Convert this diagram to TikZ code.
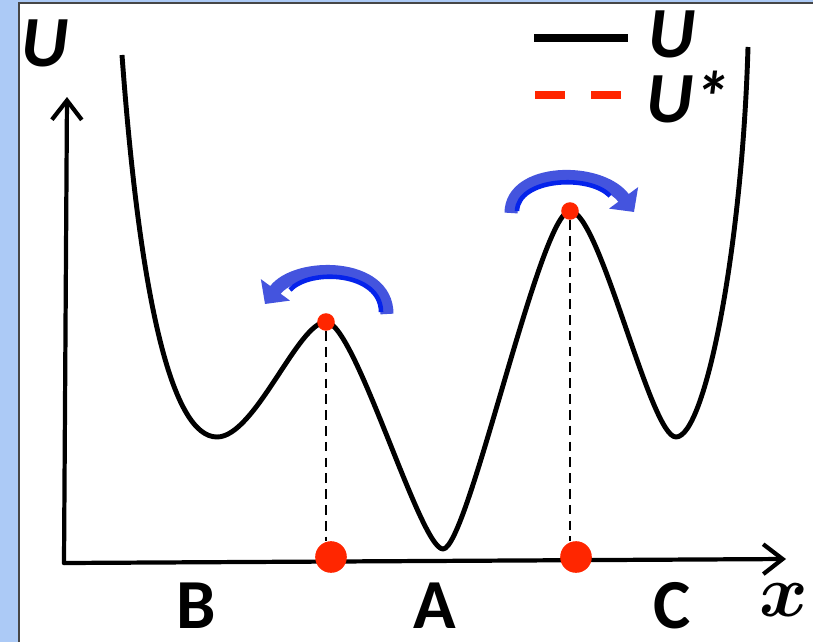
\documentclass[tikz,border=0pt]{standalone}
\usepackage{fontspec}
\setmainfont{Carlito}
\usetikzlibrary{arrows.meta}

\definecolor{slideblue}{RGB}{172,202,246}
\definecolor{frame}{RGB}{70,70,70}
\definecolor{dotred}{RGB}{255,38,0}
\definecolor{hopblue}{RGB}{68,84,222}
\definecolor{hopdark}{RGB}{5,35,235}

\tikzset{
    axis/.style={line width=2.4pt, line cap=round,
        -{Straight Barb[length=11pt,width=17pt,line width=2.4pt]}},
    energy/.style={line width=2.8pt, line join=round},
    saddle/.style={circle, fill=dotred, inner sep=0pt, minimum size=10pt},
    crossing/.style={circle, fill=dotred, inner sep=0pt, minimum size=18pt},
    guide/.style={line width=0.9pt, dash pattern=on 5.5pt off 3.5pt},
    hop/.style={line width=7.4pt, hopblue,
        -{Triangle[length=10pt,width=20pt]}},
    hopcore/.style={line width=2.6pt, hopdark},
    well/.style={inner sep=0pt, font=\bfseries\fontsize{40}{40}\selectfont},
    symb/.style={inner sep=0pt, font=\bfseries\itshape\fontsize{41}{41}\selectfont}
}

\begin{document}
\begin{tikzpicture}[x=0.02cm,y=-0.02cm]
    % slide background and panel
    \useasboundingbox (0,0) rectangle (813,642);
    \fill[slideblue] (0,0) rectangle (813,642);
    \fill[white] (19,3) rectangle (813,642);
    \draw[frame, line width=0.8pt] (19,642) -- (19,3) -- (813,3);

    % axes
    \coordinate (origin) at (64,563);
    \coordinate (ytip) at (67,97);
    \coordinate (xtip) at (786,559);
    \draw[axis] (origin) -- (ytip);
    \draw[axis] (origin) -- (xtip);
    \node[symb] (ylab) at (45,43) {U};
    \node[inner sep=0pt] (xlab) at (784,600) {\scalebox{4.2}{\boldmath$x$}};

    % potential energy curve
    \draw[energy] (122,55)
        .. controls (140,300) and (172,437) .. (217,437)
        .. controls (255,437) and (298,322) .. (326,322)
        .. controls (355,322) and (420,549) .. (443,549)
        .. controls (468,549) and (540,211) .. (570,211)
        .. controls (600,211) and (650,437) .. (676,437)
        .. controls (705,437) and (742,250) .. (748,47);

    % transition states projected on x
    \node[crossing] (xs1) at (331,557) {};
    \node[crossing] (xs2) at (576,557) {};
    \node[saddle] (ts1) at (326,322) {};
    \node[saddle] (ts2) at (570,211) {};
    \draw[guide] (ts1) -- (ts1 |- xs1.north);
    \draw[guide] (ts2) -- (ts2 |- xs2.north);

    % hopping arrows
    \draw[hop] (387,314) .. controls (387,262) and (296,262) .. (265,304);
    \draw[hopcore] (381,312) .. controls (381,272) and (310,268) .. (290,290);
    \draw[hop] (511,213) .. controls (511,168) and (600,166) .. (634,212);
    \draw[hopcore] (517,211) .. controls (518,178) and (590,174) .. (610,196);

    % basin labels
    \node[well] (B) at (196,606) {B};
    \node[well] (A) at (435,606) {A};
    \node[well] (C) at (672,606) {C};

    % legend
    \coordinate (l1a) at (534,38);
    \coordinate (l1b) at (628,38);
    \draw[line width=4.5pt] (l1a) -- (l1b);
    \node[symb] (lU) at (672,34) {U};
    \coordinate (l2a) at (535,95);
    \coordinate (l2b) at (622,95);
    \draw[dotred, line width=5pt, dash pattern=on 17pt off 15pt] (l2a) -- (l2b);
    \node[symb] (lUs) at (688,97) {U*};
\end{tikzpicture}
\end{document}
